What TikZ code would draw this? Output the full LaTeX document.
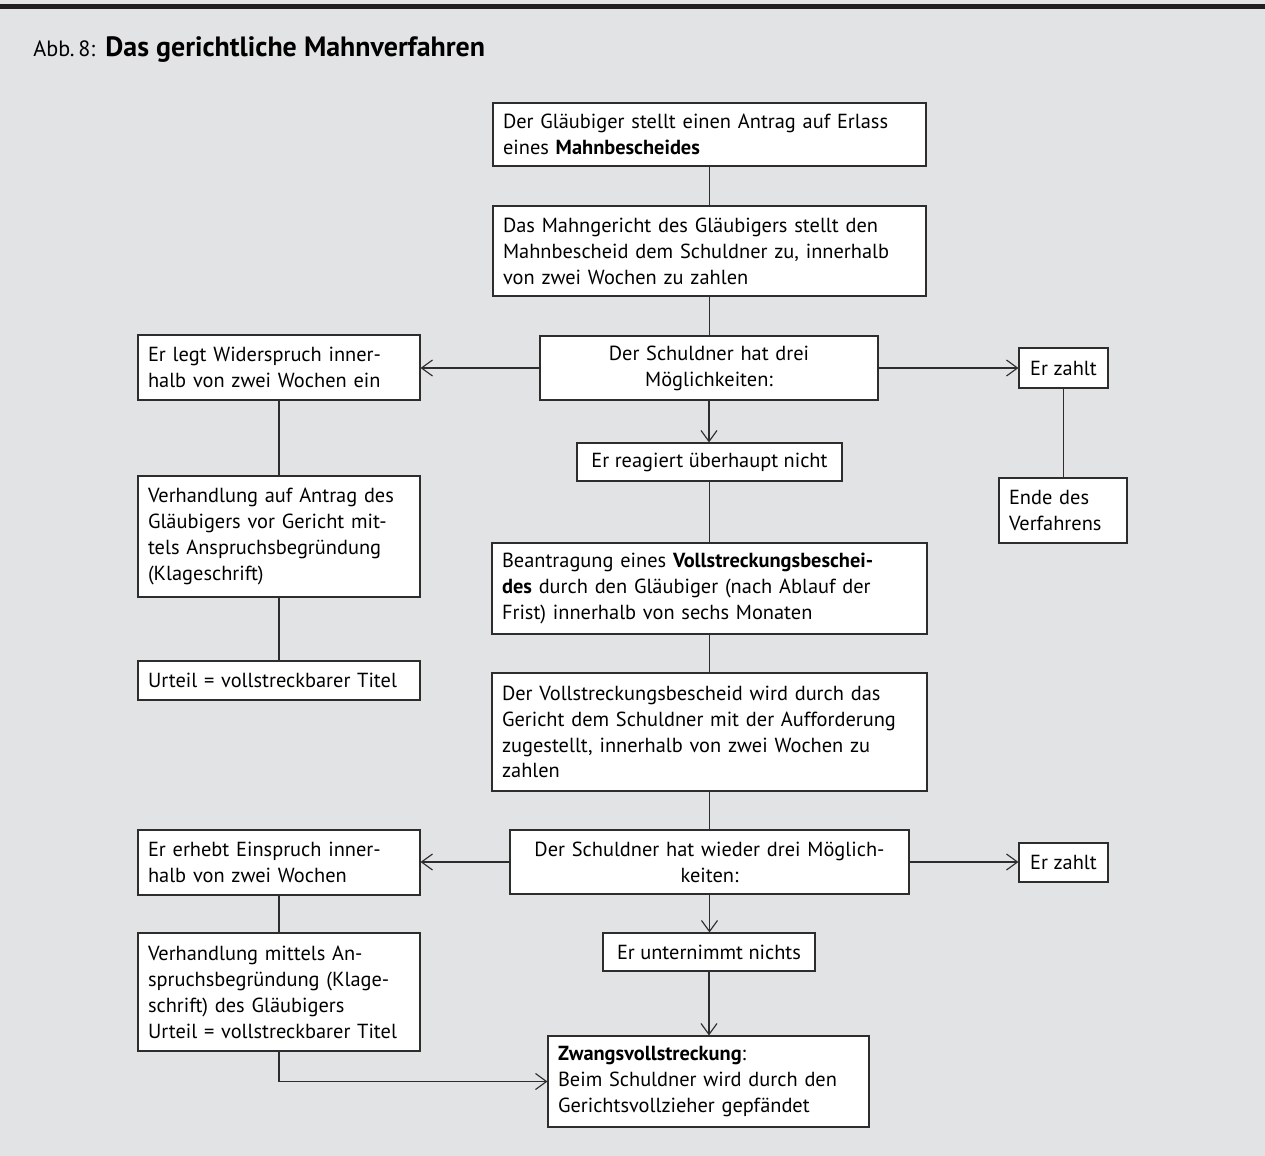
\documentclass[tikz,border=0pt]{standalone}
\usepackage{fontspec}
\setmainfont{PT Sans}
\usetikzlibrary{arrows.meta}
\definecolor{bggray}{RGB}{226,227,229}
\definecolor{barblack}{RGB}{35,31,32}
\definecolor{linegray}{RGB}{45,45,45}

\begin{document}
\begin{tikzpicture}[x=0.02cm,y=-0.02cm,
  box/.style={draw=linegray,fill=white,line width=0.65pt,inner xsep=0.2cm,inner ysep=0pt,align=left,font=\fontsize{11.6}{14.75}\selectfont},
  cbox/.style={box,align=center},
  ln/.style={draw=linegray,line width=0.65pt},
  arr/.style={ln,-{Straight Barb[length=2.2mm,width=3.2mm]}},
  titel/.style={anchor=base west,inner sep=0pt}]
\fill[bggray] (0,0) rectangle (1265,1156);
\fill[barblack] (0,4) rectangle (1265,8.5);
\useasboundingbox (0,0) rectangle (1265,1156);

\node[titel,font=\fontsize{12.6}{14}\selectfont] (abb) at (33,56) {Abb.\,8:};
\node[titel,font=\bfseries\fontsize{15.9}{18}\selectfont] (ueberschrift) at (105,56) {Das gerichtliche Mahnverfahren};

% Mahnbescheid
\node[box,text width=8.26cm,minimum height=1.26cm] (antrag) at (709.5,134.5) {Der Gläubiger stellt einen Antrag auf Erlass\\ eines \textbf{Mahnbescheides}};
\node[box,text width=8.26cm,minimum height=1.8cm] (zustellung) at (709.5,251) {Das Mahngericht des Gläubigers stellt den\\ Mahnbescheid dem Schuldner zu, innerhalb\\ von zwei Wochen zu zahlen};
\node[cbox,text width=6.36cm,minimum height=1.28cm] (drei) at (709,368) {Der Schuldner hat drei\\ Möglichkeiten:};
\node[box,text width=5.24cm,minimum height=1.3cm] (widerspruch) at (279,367.5) {Er legt Widerspruch inner-\\ halb von zwei Wochen ein};
\node[cbox,minimum width=1.78cm,minimum height=0.8cm] (zahlt) at (1063.5,368) {Er zahlt};
\node[box,text width=2.16cm,minimum height=1.3cm] (ende) at (1063,510.5) {Ende des\\ Verfahrens};
\node[cbox,minimum width=5.3cm,minimum height=0.76cm] (reagiert) at (709.5,462) {Er reagiert überhaupt nicht};
\node[box,text width=5.24cm,minimum height=2.42cm] (verhandlung) at (279,536.5) {Verhandlung auf Antrag des\\ Gläubigers vor Gericht mit-\\ tels Anspruchsbegründung\\ (Klageschrift)};
\node[box,text width=5.24cm,minimum height=0.78cm] (urteil) at (279,680.5) {Urteil = vollstreckbarer Titel};

% Vollstreckungsbescheid
\node[box,text width=8.3cm,minimum height=1.82cm] (vbantrag) at (709.5,588.5) {Beantragung eines \textbf{Vollstreckungsbeschei-}\\ \textbf{des} durch den Gläubiger (nach Ablauf der\\ Frist) innerhalb von sechs Monaten};
\node[box,text width=8.3cm,minimum height=2.36cm] (vbescheid) at (709.5,732) {Der Vollstreckungsbescheid wird durch das\\ Gericht dem Schuldner mit der Aufforderung\\ zugestellt, innerhalb von zwei Wochen zu\\ zahlen};
\node[cbox,text width=7.58cm,minimum height=1.28cm] (wieder) at (709.5,862) {Der Schuldner hat wieder drei Möglich-\\ keiten:};
\node[box,text width=5.24cm,minimum height=1.3cm] (einspruch) at (279,862.5) {Er erhebt Einspruch inner-\\ halb von zwei Wochen};
\node[cbox,minimum width=1.78cm,minimum height=0.78cm] (zahlt2) at (1063.5,862.5) {Er zahlt};
\node[cbox,minimum width=4.24cm,minimum height=0.76cm] (nichts) at (709,952) {Er unternimmt nichts};
\node[box,text width=5.24cm,minimum height=2.36cm] (verhandlung2) at (279,992) {Verhandlung mittels An-\\ spruchsbegründung (Klage-\\ schrift) des Gläubigers\\ Urteil = vollstreckbarer Titel};
\node[box,text width=6.02cm,minimum height=1.82cm] (zwang) at (708.5,1081.5) {\textbf{Zwangsvollstreckung}:\\ Beim Schuldner wird durch den\\ Gerichtsvollzieher gepfändet};

% Verbindungen
\draw[ln] (antrag.south) -- (antrag.south |- zustellung.north);
\draw[ln] (zustellung.south) -- (zustellung.south |- drei.north);
\draw[arr] (drei.west) -- (drei.west -| widerspruch.east);
\draw[arr] (drei.east) -- (drei.east -| zahlt.west);
\draw[arr] (drei.south) -- (drei.south |- reagiert.north);
\draw[ln] (zahlt.south) -- (zahlt.south |- ende.north);
\draw[ln] (widerspruch) -- (verhandlung);
\draw[ln] (verhandlung) -- (urteil);
\draw[ln] (reagiert.south) -- (reagiert.south |- vbantrag.north);
\draw[ln] (vbantrag) -- (vbescheid);
\draw[ln] (vbescheid) -- (wieder);
\draw[arr] (wieder.west) -- (wieder.west -| einspruch.east);
\draw[arr] (wieder.east) -- (wieder.east -| zahlt2.west);
\draw[arr] (wieder.south) -- (wieder.south |- nichts.north);
\draw[ln] (einspruch) -- (verhandlung2);
\draw[arr] (nichts.south) -- (nichts.south |- zwang.north);
\draw[arr] (verhandlung2.south) |- (zwang.west);
\end{tikzpicture}
\end{document}
